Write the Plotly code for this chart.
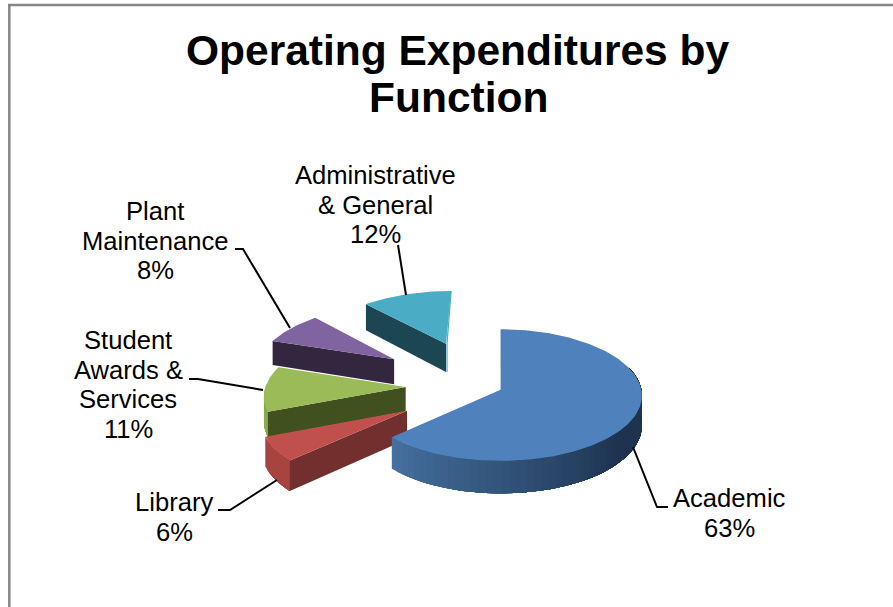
import numpy as np
import plotly.graph_objects as go

# Chart content
CATEGORIES = ["Academic", "Library", "Student Awards & Services", "Plant Maintenance", "Administrative & General"]
SHARES = [63, 6, 11, 8, 12]
LABEL_LINES = [
    ["Academic"],
    ["Library"],
    ["Student", "Awards &", "Services"],
    ["Plant", "Maintenance"],
    ["Administrative", "& General"],
]
TITLE_LINES = ["Operating Expenditures by", "Function"]

# Styling per slice
TOP_COLORS = ["#4f81bd", "#c0504d", "#9bbb59", "#8064a2", "#4bacc6"]
CUT_COLORS = ["#2b4a70", "#732f2d", "#41501f", "#33263f", "#1c4652"]
RIM_COLORS = [("#44709f", "#1e3350"), ("#a8443f", "#a8443f"), ("#8aa84e", "#8aa84e"),
              ("#33263f", "#33263f"), ("#1c4652", "#1c4652")]

# Projection of the tilted pie onto the page
VANISH_X, CENTER_Y, TILT_B, PERSP_Y, PERSP_X, RADIUS = 500.1, 378.4, 64.0, 0.082, 0.09, 138.6
EXPLODE_X = [0.5, -89.2, -93.3, -109.0, -57.0]
EXPLODE_Y = [0.175, 0.485, 0.133, -0.307, -0.568]
DEPTH_BASE = [29.0, 27.0, 24.0, 26.0, 30.0]
DEPTH_SLOPE = 3.0

# Label centres and leader paths on the page
LABEL_X = [729, 174, 128, 155, 375]
LABEL_Y = [498, 502, 340, 211, 175]
LINE_STEP = 29.7
LEADERS = [
    ([633, 657, 668], [447, 507, 507]),
    ([277, 230, 218], [480, 510, 510]),
    ([263, 198, 189], [390, 379, 379]),
    ([290, 243, 235], [328, 249, 249]),
    ([406, 398], [295, 245]),
]


def project(i, theta):
    """Page position of the rim at angle theta (deg), or the apex when theta is None."""
    if theta is None:
        X, Y = EXPLODE_X[i], EXPLODE_Y[i]
    else:
        t = np.radians(theta)
        X = EXPLODE_X[i] + RADIUS * np.sin(t)
        Y = EXPLODE_Y[i] - np.cos(t)
    px = VANISH_X + X * (1 + PERSP_X * Y)
    py = CENTER_Y + TILT_B * Y * (1 + PERSP_Y * Y)
    return px, py, DEPTH_BASE[i] + DEPTH_SLOPE * Y


def poly(fig, xs, ys, color):
    fig.add_trace(go.Scatter(x=list(xs), y=list(ys), mode="lines", fill="toself", fillcolor=color,
                             line=dict(color="rgba(0,0,0,0)", width=0), hoverinfo="skip", showlegend=False))


def blend(c1, c2, f):
    a = [int(c1[k:k + 2], 16) for k in (1, 3, 5)]
    b = [int(c2[k:k + 2], 16) for k in (1, 3, 5)]
    return "#%02x%02x%02x" % tuple(round(u + (v - u) * f) for u, v in zip(a, b))


fig = go.Figure()
edges = np.concatenate([[0], np.cumsum(SHARES)]) * 3.6

# Slices are painted from the back of the pie to the front
for i in [4, 3, 2, 1, 0]:
    start, end = edges[i], edges[i + 1]
    # Curved outer wall, only where the rim faces the viewer; each band runs under the
    # next one so that no seams show between the shades
    lo, hi = max(start, 70), min(end, 272)
    if hi > lo:
        steps = np.linspace(hi, lo, int((hi - lo) / 3) + 2)
        n = len(steps) - 1
        for k in range(n):
            band = steps[k:]
            rim = [project(i, t) for t in band]
            f = min(1.0, k / (0.62 * n))
            xs = [p[0] for p in rim] + [p[0] for p in rim[::-1]]
            ys = [p[1] for p in rim] + [p[1] + p[2] for p in rim[::-1]]
            poly(fig, xs, ys, blend(RIM_COLORS[i][0], RIM_COLORS[i][1], f))
    # Radial cut face along the slice's leading edge
    if i > 0:
        ax, ay, ah = project(i, None)
        rx, ry, rh = project(i, start)
        poly(fig, [ax, rx, rx, ax], [ay, ry, ry + rh, ay + ah], CUT_COLORS[i])
    # Sliver of the far cut face on the rear slice
    if i == 4:
        ax, ay, ah = project(i, None)
        ex, ey, _ = project(i, end)
        fig.add_trace(go.Scatter(x=[ax + 1, ax + 1, ex], y=[ay + ah, ay, ey], mode="lines",
                                 line=dict(color=TOP_COLORS[i], width=1.2), hoverinfo="skip", showlegend=False))
    # Top face
    arc = np.linspace(start, end, max(int(end - start), 8))
    rim = [project(i, t) for t in arc]
    ax, ay, _ = project(i, None)
    poly(fig, [ax] + [p[0] for p in rim], [ay] + [p[1] for p in rim], TOP_COLORS[i])

# Leader lines
for lx, ly in LEADERS:
    fig.add_trace(go.Scatter(x=lx, y=ly, mode="lines", line=dict(color="#000000", width=2),
                             hoverinfo="skip", showlegend=False))

# Data labels, one annotation per text line to hold the tight leading
annotations = []
for i, lines in enumerate(LABEL_LINES):
    for n, text in enumerate(lines + [f"{SHARES[i]}%"]):
        annotations.append(dict(x=LABEL_X[i], y=LABEL_Y[i] + n * LINE_STEP, xref="x", yref="y", text=text,
                                showarrow=False, xanchor="center", yanchor="middle",
                                font=dict(family="Liberation Sans", size=25.6, color="#000000")))
for n, text in enumerate(TITLE_LINES):
    annotations.append(dict(x=458, y=50 + n * 47, xref="x", yref="y", text=f"<b>{text}</b>",
                            showarrow=False, xanchor="center", yanchor="middle",
                            font=dict(family="Liberation Sans", size=42.5, color="#000000")))

fig.update_layout(
    width=893, height=607, autosize=False, margin=dict(l=0, r=0, t=0, b=0),
    paper_bgcolor="#ffffff", plot_bgcolor="#ffffff", showlegend=False, annotations=annotations,
    xaxis=dict(range=[0, 893], visible=False, fixedrange=True),
    yaxis=dict(range=[607, 0], visible=False, fixedrange=True),
    shapes=[dict(type="line", xref="x", yref="y", x0=9.3, y0=607, x1=9.3, y1=5, line=dict(color="#868686", width=2.5)),
            dict(type="line", xref="x", yref="y", x0=8, y0=5, x1=893, y1=5, line=dict(color="#868686", width=2.5))],
)
fig.write_html("out.html", config={"displayModeBar": False})
